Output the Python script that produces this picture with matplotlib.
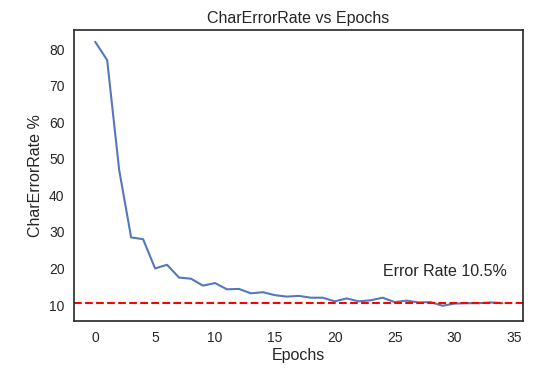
import matplotlib
matplotlib.use("Agg")
import matplotlib.pyplot as plt
import seaborn as sns

# data
epochs = list(range(35))
char_error_rate = [82, 77, 47, 28.5, 28, 20, 21, 17.5, 17.2, 15.3,
                   16, 14.3, 14.4, 13.2, 13.5, 12.7, 12.3, 12.5, 12, 12,
                   11, 11.8, 11, 11.3, 12, 10.8, 11.2, 10.7, 10.8, 9.8,
                   10.4, 10.5, 10.5, 10.7, 10.5]
final_rate = 10.5

sns.set_style("white")
plt.rcParams['font.family'] = ['Liberation Sans', 'DejaVu Sans']

fig, ax = plt.subplots(figsize=(5.58, 3.76), dpi=100)
ax.plot(epochs, char_error_rate, color="#5577bb", linewidth=1.5)
ax.axhline(final_rate, color="red", linestyle="--", linewidth=1.5)
ax.text(24, 18, f"Error Rate {final_rate}%", fontsize=11.5, color="#262626")

for s in ax.spines.values():
    s.set_color("#262626")
    s.set_linewidth(1.2)

ax.set_xlim(-1.75, 35.7)
ax.set_ylim(5.6, 85.2)
ax.set_xticks(range(0, 36, 5))
ax.set_yticks(range(10, 81, 10))
ax.tick_params(labelsize=10, colors="#262626")
ax.set_title("CharErrorRate vs Epochs", fontsize=11.5, color="#262626", pad=5)
ax.set_xlabel("Epochs", fontsize=11.5, color="#262626", labelpad=2)
ax.set_ylabel("CharErrorRate %", fontsize=11.5, color="#262626")

plt.subplots_adjust(left=0.133, right=0.937, top=0.92, bottom=0.146)
plt.savefig("out.png", dpi=100)
